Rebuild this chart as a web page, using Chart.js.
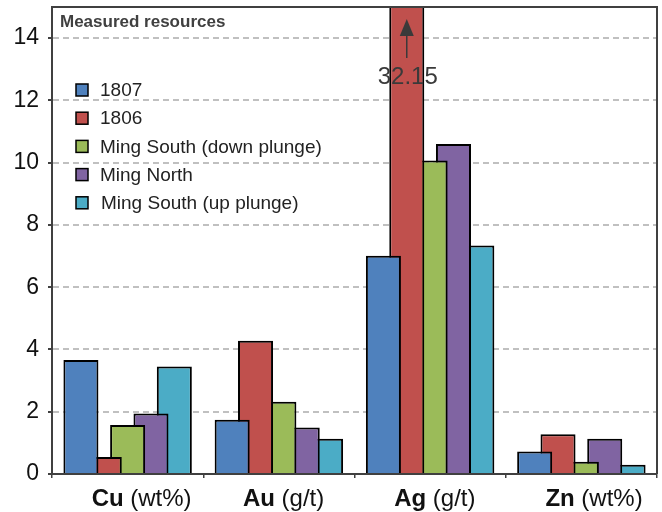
<!DOCTYPE html>
<html>
<head>
<meta charset="utf-8">
<script src="https://cdn.jsdelivr.net/npm/chart.js@4.4.1/dist/chart.umd.min.js"></script>
<style>
  html, body { margin: 0; padding: 0; background: #fff; }
  canvas { display: block; }
</style>
</head>
<body>
<canvas id="resourceChart" width="662" height="512"></canvas>
<script>
const categories = ['Cu', 'Au', 'Ag', 'Zn']
const units = ['(wt%)', '(g/t)', '(g/t)', '(wt%)']
const yTicks = [0, 2, 4, 6, 8, 10, 12, 14]

const seriesNames = ['1807', '1806', 'Ming South (down plunge)', 'Ming North', 'Ming South (up plunge)']
const series1807 = [3.66, 1.74, 7.01, 0.72]
const series1806 = [0.55, 4.28, 32.15, 1.28]
const mingSouthDown = [1.57, 2.32, 10.07, 0.39]
const mingNorth = [1.94, 1.49, 10.6, 1.13]
const mingSouthUp = [3.45, 1.13, 7.34, 0.30]

const seriesColors = ['#4f81bd', '#c0504d', '#9bbb59', '#8064a2', '#4bacc6']
const FONT = '"Liberation Sans", Arial, sans-serif'
const yMax = 15

// legend, frame, x labels and the off-scale marker are drawn by hand
const extrasPlugin = {
    id: 'extras',
    afterDatasetsDraw(chart) {
        const {ctx, chartArea} = chart
        ctx.save()
        ctx.strokeStyle = '#404040'
        ctx.lineWidth = 2
        ctx.beginPath()
        ctx.moveTo(chartArea.left, chartArea.top)
        ctx.lineTo(chartArea.right, chartArea.top)
        ctx.lineTo(chartArea.right, chartArea.bottom)
        ctx.stroke()

        // arrow and value for the bar that runs off the scale
        chart.data.datasets.forEach((ds, di) => {
            ds.data.forEach((v, i) => {
                if (v <= yMax) return
                const bar = chart.getDatasetMeta(di).data[i]
                const x = bar.x
                const tip = chartArea.top + 12
                ctx.fillStyle = '#3a3a3a'
                ctx.strokeStyle = '#3a3a3a'
                ctx.lineWidth = 1.5
                ctx.beginPath()
                ctx.moveTo(x, tip)
                ctx.lineTo(x - 7, tip + 17)
                ctx.lineTo(x + 7, tip + 17)
                ctx.closePath()
                ctx.fill()
                ctx.beginPath()
                ctx.moveTo(x, tip + 16)
                ctx.lineTo(x, tip + 39)
                ctx.stroke()
                ctx.font = '24px ' + FONT
                ctx.textAlign = 'center'
                ctx.textBaseline = 'middle'
                ctx.fillText(String(v), x + 1, chartArea.top + 70)
            })
        })
        ctx.restore()
    },
    afterDraw(chart) {
        const {ctx, chartArea} = chart
        const xScale = chart.scales.x
        ctx.save()

        // title
        ctx.fillStyle = '#404040'
        ctx.font = 'bold 17px ' + FONT
        ctx.textAlign = 'left'
        ctx.textBaseline = 'alphabetic'
        ctx.fillText('Measured resources', chartArea.left + 8, chartArea.top + 20)

        // legend
        chart.data.datasets.forEach((ds, i) => {
            const cy = chartArea.top + 83 + i * 28.2
            ctx.fillStyle = ds.backgroundColor
            ctx.fillRect(chartArea.left + 24, cy - 6, 12, 12)
            ctx.strokeStyle = '#000'
            ctx.lineWidth = 1.5
            ctx.strokeRect(chartArea.left + 24, cy - 6, 12, 12)
            ctx.fillStyle = '#222'
            ctx.font = '19px ' + FONT
            ctx.textBaseline = 'middle'
            ctx.fillText(ds.label, chartArea.left + 48 + (i === 4 ? 1 : 0), cy + 1)
        })

        // category labels: bold element + plain unit
        ctx.textBaseline = 'alphabetic'
        ctx.fillStyle = '#111'
        categories.forEach((cat, i) => {
            const x0 = xScale.getPixelForValue(i) - 36
            const y = chartArea.bottom + 32
            ctx.font = 'bold 24px ' + FONT
            ctx.fillText(cat, x0, y)
            const w = ctx.measureText(cat + ' ').width
            ctx.font = '24px ' + FONT
            ctx.fillText(units[i], x0 + w, y)
        })
        ctx.restore()
    }
}

const datasetData = [series1807, series1806, mingSouthDown, mingNorth, mingSouthUp]

new Chart(document.getElementById('resourceChart'), {
    type: 'bar',
    data: {
        labels: categories,
        datasets: datasetData.map((data, i) => ({
            label: seriesNames[i],
            data,
            backgroundColor: seriesColors[i],
            borderColor: '#000',
            borderWidth: 2,
            categoryPercentage: 0.772,
            barPercentage: 1.5
        }))
    },
    options: {
        responsive: false,
        animation: false,
        layout: {padding: {left: 0, top: 7, right: 5, bottom: 0}},
        plugins: {
            legend: {display: false},
            tooltip: {enabled: false}
        },
        scales: {
            x: {
                ticks: {display: false},
                grid: {
                    offset: true,
                    drawOnChartArea: false,
                    drawTicks: true,
                    tickLength: 4,
                    color: '#404040',
                    lineWidth: 1.5
                },
                border: {color: '#404040', width: 2},
                afterFit: (scale) => { scale.height = 38 }
            },
            y: {
                min: 0,
                max: yMax,
                afterBuildTicks: (scale) => {
                    scale.ticks = yTicks.map(value => ({value}))
                },
                ticks: {
                    color: '#111',
                    font: {family: FONT, size: 23},
                    padding: 9
                },
                grid: {
                    color: '#c0c0c0',
                    lineWidth: 2,
                    tickColor: '#404040',
                    tickLength: 4
                },
                border: {color: '#404040', width: 2, dash: [6, 4]},
                afterFit: (scale) => {
                    scale.width = 52
                    scale.paddingTop = 0
                    scale.paddingBottom = 0
                }
            }
        }
    },
    plugins: [extrasPlugin]
})
</script>
</body>
</html>
